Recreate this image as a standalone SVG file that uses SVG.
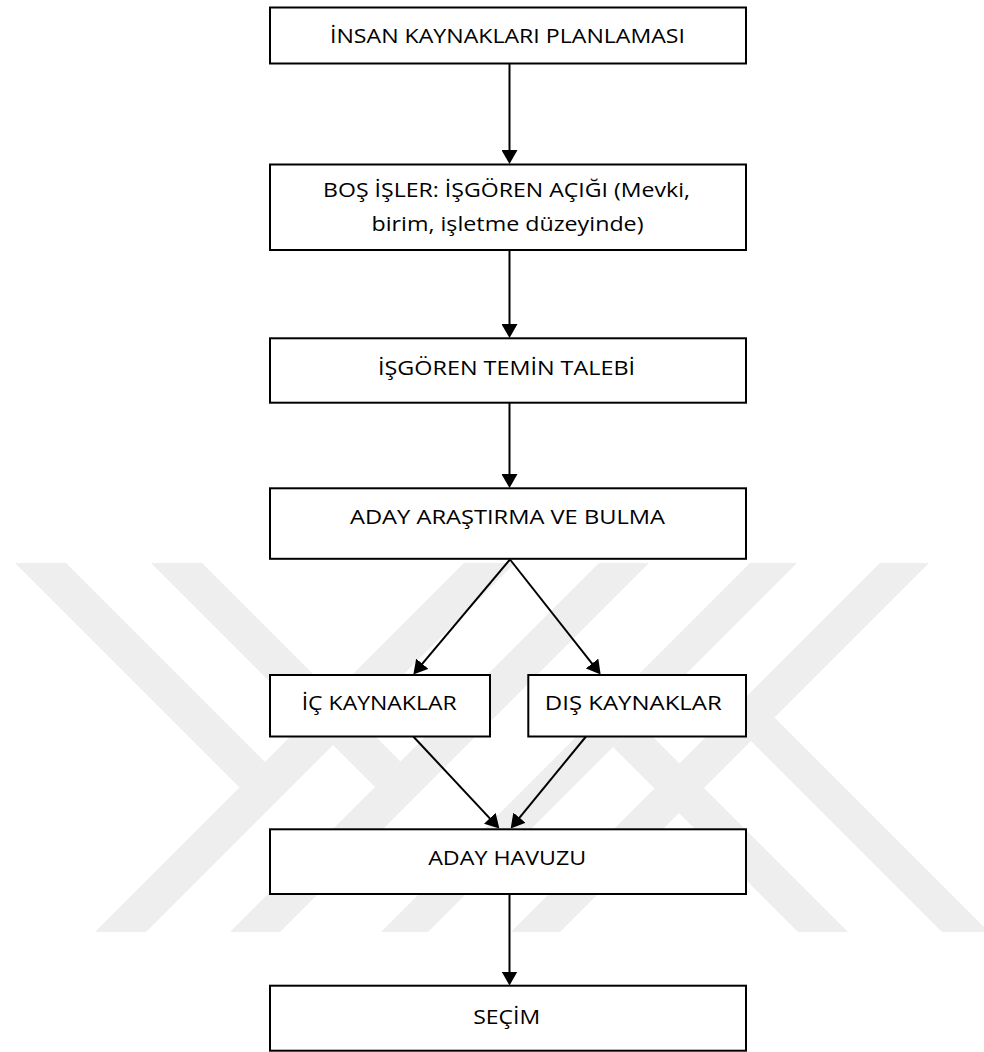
<svg xmlns="http://www.w3.org/2000/svg" width="984" height="1052" viewBox="0 0 984 1052">
<style>
.box{fill:#fff;stroke:#000;stroke-width:2}
.lbl{font-family:"Open Sans","Noto Sans","Liberation Sans",sans-serif;font-size:20px;fill:#000;text-anchor:middle}
.wm{fill:#eeeeee}
.con{stroke:#000;stroke-width:2;fill:none;marker-end:url(#ah)}
</style>
<defs>
<marker id="ah" markerWidth="14" markerHeight="16" refX="10" refY="8" orient="auto" markerUnits="userSpaceOnUse">
<path d="M0,0 L14,8 L0,16 z" fill="#000"/>
</marker>
</defs>
<rect width="984" height="1052" fill="#fff"/>
<g id="watermark">
<polygon class="wm" points="15,563 66,563 265,762 239.5,787.5"/>
<polygon class="wm" points="95,932 146,932 515,563 464,563"/>
<polygon class="wm" points="151,563 202,563 400.5,761.5 375,787"/>
<polygon class="wm" points="230,932 280,932 649,563 599,563"/>
<polygon class="wm" points="750,563 797,563 428,932 381,932"/>
<polygon class="wm" points="880,563 929,563 560,932 511,932"/>
<polygon class="wm" points="638,722 848,932 798,932 613,747"/>
<polygon class="wm" points="774.5,717.5 989,932 942,932 751,741"/>
</g>
<g id="n1"><rect class="box" x="270" y="7.5" width="476" height="56"/><text class="lbl" x="507.5" y="42.7" textLength="355" lengthAdjust="spacingAndGlyphs">İNSAN KAYNAKLARI PLANLAMASI</text></g>
<g id="n2"><rect class="box" x="270" y="164.5" width="476" height="85.5"/><text class="lbl" x="506.5" y="196.7" textLength="367" lengthAdjust="spacingAndGlyphs">BOŞ İŞLER: İŞGÖREN AÇIĞI (Mevki,</text><text class="lbl" x="507.5" y="230.7" textLength="272" lengthAdjust="spacingAndGlyphs">birim, işletme düzeyinde)</text></g>
<g id="n3"><rect class="box" x="270" y="338.3" width="476" height="64.4"/><text class="lbl" x="506.5" y="375" textLength="257" lengthAdjust="spacingAndGlyphs">İŞGÖREN TEMİN TALEBİ</text></g>
<g id="n4"><rect class="box" x="270" y="488.3" width="476" height="70.5"/><text class="lbl" x="507.5" y="524.3" textLength="315" lengthAdjust="spacingAndGlyphs">ADAY ARAŞTIRMA VE BULMA</text></g>
<g id="n5"><rect class="box" x="270" y="675" width="220" height="61.5"/><text class="lbl" x="379.2" y="710" textLength="155" lengthAdjust="spacingAndGlyphs">İÇ KAYNAKLAR</text></g>
<g id="n6"><rect class="box" x="528.3" y="675" width="217.7" height="61.5"/><text class="lbl" x="633.3" y="710" textLength="177" lengthAdjust="spacingAndGlyphs">DIŞ KAYNAKLAR</text></g>
<g id="n7"><rect class="box" x="270" y="829.3" width="476" height="64.7"/><text class="lbl" x="507.2" y="865" textLength="158" lengthAdjust="spacingAndGlyphs">ADAY HAVUZU</text></g>
<g id="n8"><rect class="box" x="270" y="985.7" width="476" height="65"/><text class="lbl" x="506.7" y="1024.3" textLength="67" lengthAdjust="spacingAndGlyphs">SEÇİM</text></g>
<g id="connectors">
<line class="con" x1="509.5" y1="64" x2="509.5" y2="160"/>
<line class="con" x1="509.5" y1="250.5" x2="509.5" y2="334"/>
<line class="con" x1="509.5" y1="403" x2="509.5" y2="484"/>
<line class="con" x1="510" y1="559.5" x2="415.9" y2="671.4"/>
<line class="con" x1="510" y1="559.5" x2="598.2" y2="671.4"/>
<line class="con" x1="413.3" y1="736.5" x2="496.6" y2="825.6"/>
<line class="con" x1="586" y1="736.5" x2="513.2" y2="825.4"/>
<line class="con" x1="509.5" y1="894.5" x2="509.5" y2="981.5"/>
</g>
</svg>
